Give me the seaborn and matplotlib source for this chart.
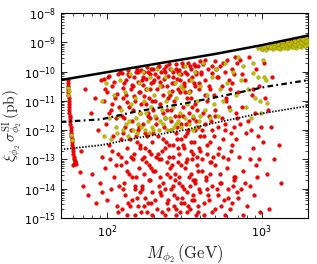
import numpy as np
import pandas as pd
import matplotlib
matplotlib.use("Agg")
import matplotlib.pyplot as plt
import matplotlib.ticker as mticker
import seaborn as sns

# ---- data (mass in GeV, log10 of sigma in pb) ----
limit_mass = [50, 100, 200, 500, 1000, 2000]
limit_logsig = [-10.29, -10.02, -9.75, -9.40, -9.10, -8.77]

proj1_mass = [50, 91.5, 152, 321, 526, 1062, 2018]
proj1_logsig = [-11.72, -11.63, -11.37, -11.08, -10.86, -10.52, -10.29]

proj2_mass = [50, 91.5, 166, 321, 432, 875, 2018]
proj2_logsig = [-12.66, -12.51, -12.24, -11.99, -11.82, -11.48, -11.17]

red_mass = [
    # resonance funnel
    55.5, 55.6, 55.7, 55.8, 55.9, 56.0, 56.1, 56.2, 56.4, 56.5, 56.6, 56.8, 57.0, 57.2,
    57.4, 57.6, 57.8, 58.0, 58.2, 58.5, 58.8, 59.1, 59.4, 59.7, 60.0, 60.3, 60.6, 61.0,
    61.3, 60.5, 61.5, 59.8, 62.5, 67,
    # m < 120
    68, 70, 72, 75, 78, 80, 83, 85, 87, 89,
    91, 92, 93, 95, 96, 97, 98, 100, 101, 102, 104, 105, 106, 108, 109, 110, 112, 114,
    115, 117, 118, 119,
    # 120 - 200
    121, 122, 124, 125, 126, 128, 129, 130, 131, 133, 134, 135, 137, 138, 139, 141, 142,
    144, 145, 146, 148, 149, 151, 152, 154, 155, 157, 158, 160, 161, 163, 164, 166, 167,
    169, 170, 172, 174, 175, 177, 178, 180, 182, 183, 185, 187, 188, 190, 192, 194, 195,
    197, 199, 123, 127, 132, 136, 140, 143, 147, 150, 153, 156, 159, 162, 165, 168, 171,
    173, 176, 179, 181, 184, 186, 189, 191, 193, 196, 198,
    # 200 - 400
    202, 205, 207, 210, 212, 215, 217, 220, 222, 225, 227, 230, 232, 235, 237, 240, 242,
    245, 247, 250, 252, 255, 257, 260, 262, 265, 267, 270, 272, 275, 277, 280, 282, 285,
    287, 290, 292, 295, 297, 300, 303, 306, 309, 312, 315, 318, 321, 324, 327, 330, 333,
    336, 339, 342, 345, 348, 351, 354, 357, 360, 363, 366, 369, 372, 375, 378, 381, 384,
    387, 390, 393, 396, 399, 203, 208, 213, 218, 223, 228, 233, 238, 243, 248, 253, 258,
    263, 268, 273, 278, 283, 288, 293, 298, 304, 310, 316, 322, 328, 334, 340, 346, 352,
    358, 364, 370, 376, 382, 388, 394,
    # 400 - 700
    405, 410, 415, 420, 425, 430, 435, 440, 445, 450, 455, 460, 465, 470, 475, 480, 485,
    490, 495, 500, 510, 520, 530, 540, 550, 560, 570, 580, 590, 600, 610, 620, 630, 640,
    650, 660, 670, 680, 690, 700, 412, 428, 442, 458, 472, 488, 505, 525, 545, 565, 585,
    605, 625, 645, 665, 685,
    # 700 - 1000
    710, 720, 735, 750, 760, 775, 790, 800, 815, 830, 845, 860, 875, 890, 905, 920, 935,
    950, 965, 980, 995, 725, 785, 855, 915, 745, 880, 960,
    # above 1 TeV
    1020, 1050, 1080, 1110, 1150, 1200, 1290, 1330, 1040, 1100, 1170,
    1000, 1100, 1180, 1250, 1320, 1400, 1480, 1550, 1620, 1700, 1780, 1850, 1920, 1980, 1450,
    # extra: just under the limit
    95, 99, 103, 107, 111, 116, 119, 124, 127, 132, 135, 139, 144, 148, 153, 157, 162,
    165, 171, 174, 179, 184, 188, 193, 197, 204, 209, 214, 219, 224, 229, 234, 239, 244,
    249, 256, 261, 266, 271, 279, 284, 291, 296, 302, 308, 314, 320, 326, 332, 338, 344,
    350, 356, 362, 368, 374, 385, 392, 402, 418, 432, 448, 462, 478, 495, 515, 535, 555,
    575, 595, 615, 640, 660, 690,
    # extra: middle
    102, 108, 113, 122, 128, 134, 142, 147, 155, 161, 168, 176, 183, 191, 199, 206, 213,
    221, 229, 236, 244, 251, 259, 266, 274, 281, 289, 299, 307, 317, 327, 337, 347, 359,
    371, 383, 397, 411, 427, 444, 461, 479, 499, 518, 538, 561, 583, 607, 633, 658, 688,
    # extra: bottom
    118, 126, 136, 145, 152, 163, 172, 186, 195, 204, 216, 226, 236, 246, 256, 269, 279,
    291, 302, 314, 329, 343, 356, 372, 386, 401, 422, 438, 456, 476, 497, 519, 548, 575,
    601, 638, 672, 705, 760, 840,
]
red_logsig = [
    -10.30, -10.40, -10.50, -10.60, -10.70, -10.80, -10.90, -11.00, -11.10, -11.20, -11.30,
    -11.40, -11.50, -11.60, -11.70, -11.80, -11.90, -12.00, -12.10, -12.20, -12.30, -12.40,
    -12.50, -12.60, -12.70, -12.80, -12.90, -13.00, -13.05, -13.15, -13.10, -13.20, -13.15,
    -13.43,
    -12.7, -13.9, -10.6, -14.2, -11.4, -13.5, -10.9, -14.5, -12.0, -13.8,
    -10.3, -12.9, -14.1, -11.0, -13.3, -10.6, -11.8, -14.4, -10.2, -12.5, -13.0, -11.3,
    -14.0, -10.5, -12.2, -13.6, -10.9, -11.6, -14.6, -10.1, -12.8, -13.9,
    -10.0, -13.2, -11.5, -14.7, -12.1, -10.4, -13.8, -11.9, -14.2, -10.8, -12.6, -14.9,
    -9.95, -11.2, -13.5, -12.3, -10.6, -14.4, -11.7, -13.0, -10.2, -12.8, -14.0, -11.0,
    -13.6, -9.9, -12.0, -14.6, -10.7, -13.3, -11.4, -12.5, -14.8, -10.3, -13.9, -11.8,
    -12.9, -10.0, -14.3, -11.1, -13.1, -12.2, -9.85, -14.5, -10.9, -12.7, -13.7, -11.6,
    -10.4, -14.1, -12.4, -11.3, -13.4, -12.9, -10.9, -13.1, -10.1, -14.6, -12.0, -10.5,
    -13.9, -12.2, -14.3, -10.0, -12.6, -11.1, -14.0, -10.2, -13.5, -12.1, -10.6, -14.8,
    -11.5, -13.2, -10.1, -12.8, -14.5, -11.0, -9.9,
    -10.3, -13.4, -11.6, -14.7, -12.2, -9.8, -13.0, -11.1, -14.2, -12.7, -10.5, -13.8,
    -11.9, -14.9, -10.0, -12.4, -13.5, -11.3, -14.4, -9.75, -12.9, -10.8, -14.0, -11.7,
    -13.2, -10.2, -12.5, -14.6, -11.0, -13.7, -9.9, -12.1, -14.3, -10.6, -13.1, -11.5,
    -12.8, -14.8, -10.3, -12.3, -13.9, -9.7, -11.2, -14.5, -12.6, -10.7, -13.3, -11.8,
    -14.1, -10.1, -12.0, -13.6, -11.4, -14.7, -9.8, -12.7, -10.9, -13.0, -11.6, -14.2,
    -10.4, -12.4, -13.8, -11.1, -14.9, -10.0, -12.9, -13.4, -11.9, -10.6, -14.0, -12.2,
    -9.65, -11.0, -12.9, -10.2, -14.1, -13.0, -11.4, -9.9, -12.6, -14.5, -10.9, -13.3,
    -12.0, -10.4, -13.9, -11.5, -14.7, -12.3, -10.0, -13.6, -11.8, -14.3, -12.5, -10.5,
    -13.1, -12.1, -14.6, -10.7, -13.5, -11.2, -12.8, -14.4, -9.8, -11.7, -13.2, -14.8,
    -12.6,
    -10.1, -13.0, -11.4, -14.5, -12.2, -9.6, -13.7, -11.0, -12.8, -14.2, -10.5, -12.4,
    -13.5, -11.7, -9.8, -14.8, -12.9, -10.8, -13.2, -11.3, -14.0, -10.2, -12.6, -13.8,
    -11.6, -9.7, -14.4, -12.0, -10.9, -13.3, -11.2, -14.7, -12.7, -10.4, -13.9, -11.9,
    -9.5, -12.3, -14.1, -10.7, -12.0, -10.8, -14.0, -11.5, -13.1, -12.2, -9.9, -11.9,
    -14.6, -12.9, -11.0, -14.3, -10.6, -12.5, -13.6, -11.4,
    -12.9, -9.6, -14.0, -11.2, -13.4, -10.3, -12.1, -14.6, -11.7, -9.5, -13.0, -10.8,
    -12.6, -14.2, -11.4, -9.9, -13.6, -12.2, -10.5, -14.8, -11.9, -11.8, -13.8, -12.0,
    -13.2, -10.1, -10.6, -13.0,
    -12.4, -10.9, -13.5, -14.7, -11.9, -13.0, -12.5, -13.8, -9.7, -11.3, -10.2,
    -9.22, -9.15, -9.18, -9.05, -9.1, -8.98, -9.05, -8.97, -9.02, -8.92, -8.97, -8.9,
    -8.88, -8.92, -9.1,
    -10.25, -10.7, -10.15, -11.1, -10.35, -10.75, -11.2, -10.05, -10.55, -10.3, -11.05,
    -10.15, -10.45, -10.85, -10.0, -10.35, -10.7, -9.95, -10.45, -10.85, -10.25, -10.0,
    -10.6, -9.9, -10.35, -10.1, -10.6, -9.85, -10.35, -10.0, -10.8, -10.25, -9.8, -10.5,
    -10.15, -9.9, -10.65, -10.0, -10.4, -9.75, -10.25, -9.95, -10.7, -10.1, -9.8, -10.4,
    -10.0, -10.9, -9.7, -10.3, -10.65, -9.9, -10.2, -9.75, -10.5, -10.1, -9.8, -10.4,
    -10.0, -9.75, -10.3, -9.9, -10.6, -10.05, -9.65, -10.2, -9.8, -10.5, -10.0, -9.6,
    -10.3, -9.9, -10.1, -9.7,
    -11.4, -12.7, -13.2, -12.3, -11.6, -13.4, -12.9, -11.3, -12.4, -11.9, -13.0, -12.6,
    -11.4, -13.3, -12.1, -11.8, -12.8, -13.6, -12.3, -11.6, -13.1, -12.5, -11.3, -12.9,
    -13.5, -11.9, -12.6, -13.2, -11.5, -12.2, -13.0, -11.7, -12.4, -13.7, -12.0, -11.3,
    -12.7, -13.4, -11.8, -12.5, -13.1, -12.0, -11.5, -12.8, -13.5, -12.3, -11.8, -13.0,
    -12.1, -13.7, -11.6,
    -14.8, -14.0, -14.5, -13.6, -14.9, -14.1, -14.6, -13.7, -14.9, -14.4, -13.9, -14.8,
    -14.0, -14.7, -13.6, -14.2, -14.9, -13.8, -14.5, -14.0, -14.8, -13.9, -14.4, -13.7,
    -14.6, -14.1, -14.9, -13.6, -14.4, -13.9, -14.7, -14.2, -13.8, -14.9, -14.0, -14.5,
    -13.6, -14.3, -14.9, -13.9,
]

yellow_mass = [
    # funnel
    55.8, 56.0, 56.1, 58.3, 58.7,
    # main region
    92, 95, 98, 103, 106, 110, 113, 116, 120, 123, 126, 130, 133, 136, 140, 143, 146,
    150, 153, 156, 160, 163, 166, 170, 173, 176, 180, 183, 186, 190, 193, 196, 200, 205,
    210, 215, 220, 225, 230, 235, 240, 245, 250, 255, 260, 265, 270, 275, 280, 285, 290,
    295, 300, 310, 320, 330, 340, 350, 360, 370, 380, 390, 400, 415, 430, 445, 460, 475,
    490, 505, 520, 540, 560, 580, 600, 620, 650, 680, 700, 730, 760, 790, 820, 850, 880,
    910, 950, 980, 1020, 118, 138, 158, 178, 198, 218, 238, 258, 278, 298, 318, 338, 358,
    378, 398, 873, 1030, 1060, 1090, 990,
    # dense band under the limit
    950, 980, 1010, 1040, 1070, 1100, 1130, 1160, 1190, 1220, 1250, 1280, 1310, 1340,
    1370, 1400, 1430, 1460, 1490, 1520, 1550, 1580, 1610, 1640, 1670, 1700, 1730, 1760,
    1790, 1820, 1850, 1880, 1910, 1940, 1970, 2000, 1980, 1900, 1850, 1750, 1600, 1450,
    1300, 1150, 1950, 1800, 1650, 1500, 1350, 1200,
]
yellow_logsig = [
    -10.55, -10.8, -10.65, -12.15, -12.35,
    -11.0, -12.2, -10.4, -11.6, -12.3, -10.8, -11.9, -12.1, -10.3, -11.3, -12.0, -10.7,
    -11.8, -12.2, -10.1, -11.1, -12.0, -10.9, -11.6, -12.1, -10.4, -11.4, -11.9, -10.0,
    -11.0, -12.0, -10.6, -11.7, -12.1, -10.2, -11.2, -11.9, -10.8, -11.5, -9.9, -12.0,
    -10.5, -11.3, -11.8, -10.2, -11.0, -12.0, -10.7, -11.6, -9.9, -11.2, -11.9, -10.4,
    -10.9, -11.7, -10.1, -11.4, -11.9, -10.6, -9.8, -11.1, -11.8, -10.3, -11.5, -10.0,
    -11.0, -11.7, -10.5, -9.7, -11.3, -10.8, -11.6, -10.2, -11.1, -9.9, -11.5, -10.6,
    -11.0, -9.7, -10.4, -11.3, -10.0, -10.8, -9.5, -10.3, -9.8, -11.2, -10.6, -11.6,
    -9.7, -10.9, -10.2, -11.0, -9.6, -11.5, -11.7, -11.8, -11.4, -12.0, -11.7, -11.6,
    -12.0, -11.8, -10.5, -11.6, -10.7, -12.0, -11.9, -11.5, -10.05, -10.2, -10.3, -11.07,
    -11.41,
    -9.2, -9.17, -9.22, -9.15, -9.25, -9.12, -9.2, -9.1, -9.24, -9.08, -9.18, -9.06,
    -9.22, -9.12, -9.03, -9.18, -9.08, -9.0, -9.2, -9.1, -8.98, -9.15, -9.05, -8.95,
    -9.18, -9.08, -8.93, -9.0, -9.15, -8.9, -9.05, -8.95, -9.12, -8.87, -9.02, -8.92,
    -9.1, -9.12, -8.9, -9.12, -9.17, -9.2, -9.2, -9.15, -8.95, -9.02, -9.08, -9.05,
    -9.1, -9.15,
]

red = pd.DataFrame({"mass": red_mass, "sigma": 10.0 ** np.array(red_logsig)})
yellow = pd.DataFrame({"mass": yellow_mass, "sigma": 10.0 ** np.array(yellow_logsig)})

sns.set_style("ticks", {"xtick.direction": "in", "ytick.direction": "in"})
plt.rcParams["font.family"] = ["DejaVu Sans"]
plt.rcParams["mathtext.fontset"] = "cm"

fig = plt.figure(figsize=(3.17, 2.64), dpi=100)
ax = fig.add_axes([0.192, 0.174, 0.780, 0.777])

sns.scatterplot(data=red, x="mass", y="sigma", ax=ax, color="red", s=7,
                edgecolor="#b00000", linewidth=0.3, zorder=2)
sns.scatterplot(data=yellow, x="mass", y="sigma", ax=ax, color=(0.75, 0.75, 0.0), s=7,
                edgecolor=(0.55, 0.55, 0.0), linewidth=0.3, zorder=3)

sns.lineplot(x=limit_mass, y=10.0 ** np.array(limit_logsig), ax=ax, color="black",
             lw=1.8, zorder=4)
sns.lineplot(x=proj1_mass, y=10.0 ** np.array(proj1_logsig), ax=ax, color="black",
             lw=1.6, linestyle=(0, (2.5, 1.5, 0.8, 1.5)), zorder=4)
sns.lineplot(x=proj2_mass, y=10.0 ** np.array(proj2_logsig), ax=ax, color="black",
             lw=1.3, linestyle=(0, (0.8, 0.9)), zorder=4)

ax.set_xscale("log")
ax.set_yscale("log")
ax.set_xlim(50, 2000)
ax.set_ylim(1e-15, 1e-8)
ax.yaxis.set_major_locator(mticker.LogLocator(base=10, numticks=20))
ax.yaxis.set_minor_locator(mticker.LogLocator(base=10, subs=np.arange(2, 10), numticks=20))

ax.tick_params(which="both", direction="in", top=True, right=True, labelsize=8,
               colors="black")
ax.tick_params(which="major", length=4, width=0.6)
ax.tick_params(which="minor", length=2, width=0.5)
for sp in ax.spines.values():
    sp.set_visible(True)
    sp.set_linewidth(0.8)
    sp.set_color("black")

ax.set_xlabel(r"$M_{\phi_2}\,(\mathrm{GeV})$", fontsize=12, labelpad=2)
ax.set_ylabel(r"$\xi_{\phi_2}\,\sigma^{\rm SI}_{\phi_2}\,(\mathrm{pb})$", fontsize=11)
ax.yaxis.set_label_coords(-0.148, 0.45)

fig.savefig("out.png", dpi=100)
